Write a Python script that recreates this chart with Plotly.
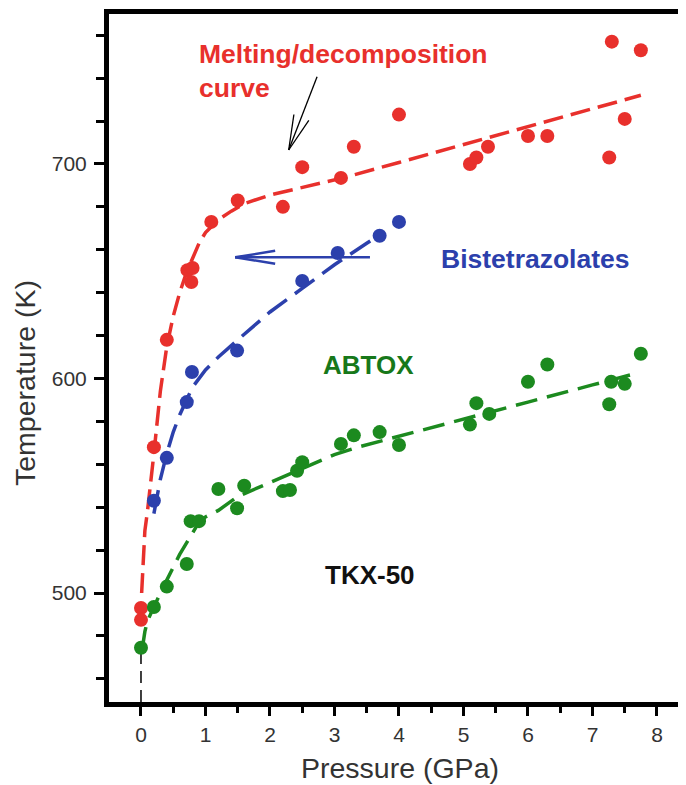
import plotly.graph_objects as go
import math

# ---------------- data ----------------
red_P = [0.0, 0.0, 0.2, 0.4, 0.72, 0.8, 0.78, 1.09, 1.5, 2.2, 2.5, 3.1, 3.3, 4.0,
         5.1, 5.2, 5.38, 6.0, 6.3, 7.26, 7.3, 7.5, 7.75]
red_T = [493, 487.5, 568, 618, 650.5, 651.5, 645, 673, 683, 680, 698.5, 693.5, 708, 723,
         700, 703, 708, 713, 713, 703, 757, 721, 753]

blue_P = [0.2, 0.4, 0.71, 0.79, 1.49, 2.5, 3.05, 3.7, 4.0]
blue_T = [543, 563, 589, 603, 613, 645.5, 658.5, 666.5, 673]

green_P = [0.0, 0.2, 0.4, 0.71, 0.77, 0.9, 1.2, 1.49, 1.6, 2.2, 2.31, 2.42, 2.5,
           3.1, 3.3, 3.7, 4.0, 5.1, 5.2, 5.4, 6.0, 6.3, 7.26, 7.29, 7.5, 7.75]
green_T = [474.5, 493.5, 503, 513.5, 533.5, 533.5, 548.5, 539.5, 550, 547.5, 548, 557, 561,
           569.5, 573.5, 575, 569, 578.5, 588.5, 583.5, 598.5, 606.5, 588, 598.5, 597.5, 611.5]

# fitted (dashed) curves
red_fit_P = [0.01, 0.03, 0.06, 0.1, 0.15, 0.2, 0.3, 0.4, 0.5, 0.6, 0.7, 0.8, 0.9, 1.0,
             1.2, 1.4, 1.6, 2.0, 2.5, 3.13, 4.0, 5.0, 6.0, 7.0, 7.75]
red_fit_T = [500, 515, 529, 538, 551, 565, 594, 615, 629, 640, 649, 656, 663, 668,
             674, 678, 681.5, 685.5, 689, 693.5, 700.7, 709, 717.3, 725.6, 732]

blue_fit_P = [0.2, 0.3, 0.4, 0.5, 0.6, 0.7, 0.8, 1.0, 1.2, 1.5, 2.0, 2.5, 3.0, 3.5, 3.75]
blue_fit_T = [537, 553, 565, 575, 583, 590, 596, 604, 610, 618, 631, 642, 653, 663, 668]

green_fit_P = [0.02, 0.06, 0.1, 0.2, 0.3, 0.4, 0.5, 0.6, 0.7, 0.8, 0.9, 1.0, 1.2, 1.5,
               1.85, 2.5, 3.0, 3.36, 4.0, 5.0, 6.0, 7.0, 7.63]
green_fit_T = [474, 482, 487, 494, 500, 506, 512, 518, 523, 528, 533, 535.5, 538.5, 545,
               549.5, 558, 564.5, 568, 573, 581, 589, 597, 602]

black_P = [0.0, 0.0]
black_T = [449.2, 477]

x_ticks = [0, 1, 2, 3, 4, 5, 6, 7, 8]
y_ticks = [500, 600, 700]

# ---------------- styling ----------------
RED = "#e8302c"
BLUE = "#2c40ac"
GREEN = "#1c8a1f"
FONT = "Arial, Liberation Sans, sans-serif"

BODY = 8                      # default page margin of the html body
W, H = 686 - BODY, 785 - BODY
ML, MR, MT, MB = 109 - BODY, 0, 14 - BODY, 83
PW, PH = W - ML - MR, H - MT - MB
X_RANGE = [-0.496, 8.45]
Y_RANGE = [449.2, 769.9]
px_x = PW / (X_RANGE[1] - X_RANGE[0])
px_y = PH / (Y_RANGE[1] - Y_RANGE[0])

fig = go.Figure()

fig.add_trace(go.Scatter(x=black_P, y=black_T, mode="lines",
                         line=dict(color="black", width=1.5, dash="12px,7px"),
                         showlegend=False, hoverinfo="skip"))
fig.add_trace(go.Scatter(x=red_fit_P, y=red_fit_T, mode="lines",
                         line=dict(color=RED, width=3.5, dash="20px,8px"), showlegend=False))
fig.add_trace(go.Scatter(x=blue_fit_P, y=blue_fit_T, mode="lines",
                         line=dict(color=BLUE, width=3.5, dash="24px,10px"), showlegend=False))
fig.add_trace(go.Scatter(x=green_fit_P, y=green_fit_T, mode="lines",
                         line=dict(color=GREEN, width=3.5, dash="22px,10px"), showlegend=False))

for P, T, c in [(red_P, red_T, RED), (blue_P, blue_T, BLUE), (green_P, green_T, GREEN)]:
    fig.add_trace(go.Scatter(x=P, y=T, mode="markers",
                             marker=dict(color=c, size=14, line=dict(width=0)),
                             showlegend=False))

# ---------------- arrows (open V heads) ----------------
def arrow(tail, tip, color, width, head_len, head_half):
    dx = (tip[0] - tail[0]) * px_x
    dy = (tip[1] - tail[1]) * px_y
    L = math.hypot(dx, dy)
    ux, uy = dx / L, dy / L
    shapes = [dict(type="line", xref="x", yref="y", x0=tail[0], y0=tail[1], x1=tip[0], y1=tip[1],
                   line=dict(color=color, width=width))]
    for s in (1, -1):
        bx = -ux * head_len + s * (-uy) * head_half
        by = -uy * head_len + s * ux * head_half
        shapes.append(dict(type="line", xref="x", yref="y", x0=tip[0], y0=tip[1],
                           x1=tip[0] + bx / px_x, y1=tip[1] + by / px_y,
                           line=dict(color=color, width=width)))
    return shapes

shapes = []
shapes += arrow((3.55, 656.5), (1.46, 656.5), BLUE, 2.5, 40, 6.5)
shapes += arrow((2.73, 740.6), (2.29, 706.5), "black", 1.3, 35, 8)

annotations = [
    dict(x=0.87, y=743.5, xref="x", yref="y", text="Melting/decomposition<br>curve",
         showarrow=False, xanchor="left", yanchor="middle", align="left",
         font=dict(family=FONT, size=26.5, color=RED, weight="bold")),
    dict(x=6.12, y=655.5, xref="x", yref="y", text="Bistetrazolates", showarrow=False,
         xanchor="center", yanchor="middle",
         font=dict(family=FONT, size=26.5, color=BLUE, weight="bold")),
    dict(x=3.52, y=606.5, xref="x", yref="y", text="ABTOX", showarrow=False,
         xanchor="center", yanchor="middle",
         font=dict(family=FONT, size=26, color="#17781a", weight="bold")),
    dict(x=3.55, y=508.5, xref="x", yref="y", text="TKX-50", showarrow=False,
         xanchor="center", yanchor="middle",
         font=dict(family=FONT, size=26, color="#111111", weight="bold")),
    dict(x=25, y=383, xref="paper", yref="paper", text="Temperature (K)", showarrow=False,
         textangle=-90, xanchor="center", yanchor="middle", borderpad=0,
         font=dict(family=FONT, size=28.5, color="#333333")),
    dict(x=400, y=768, xref="paper", yref="paper", text="Pressure (GPa)", showarrow=False,
         xanchor="center", yanchor="middle", borderpad=0,
         font=dict(family=FONT, size=28.5, color="#333333")),
]
# titles placed by screen pixel -> paper coords
for a in annotations:
    if a["xref"] == "paper":
        a["x"] = (a["x"] - BODY - ML) / PW
        a["y"] = 1 - (a["y"] - BODY - MT) / PH

fig.update_layout(
    width=W, height=H,
    margin=dict(l=ML, r=MR, t=MT, b=MB, pad=0),
    paper_bgcolor="white", plot_bgcolor="white",
    shapes=shapes, annotations=annotations,
    font=dict(family=FONT, color="#333333"),
    xaxis=dict(range=X_RANGE, tickvals=x_ticks, ticktext=[str(v) for v in x_ticks],
               showgrid=False, zeroline=False, showline=True, linecolor="black", linewidth=5,
               mirror=True, ticks="outside", ticklen=9, tickwidth=3, tickcolor="black",
               tickfont=dict(family=FONT, size=21, color="#333333"), ticklabelstandoff=1,
               minor=dict(tickvals=[v + 0.5 for v in x_ticks[:-1]], ticks="outside",
                          ticklen=6, tickwidth=3, tickcolor="black")),
    yaxis=dict(range=Y_RANGE, tickvals=y_ticks, ticktext=[str(v) for v in y_ticks],
               showgrid=False, zeroline=False, showline=True, linecolor="black", linewidth=5,
               mirror=False, ticks="outside", ticklen=10, tickwidth=3, tickcolor="black",
               tickfont=dict(family=FONT, size=21, color="#333333"), ticklabelstandoff=3,
               minor=dict(tickvals=[460, 480, 520, 540, 560, 580, 620, 640, 660, 680, 720, 740, 760],
                          ticks="outside", ticklen=8, tickwidth=3, tickcolor="black")),
)

fig.write_html("out.html")
